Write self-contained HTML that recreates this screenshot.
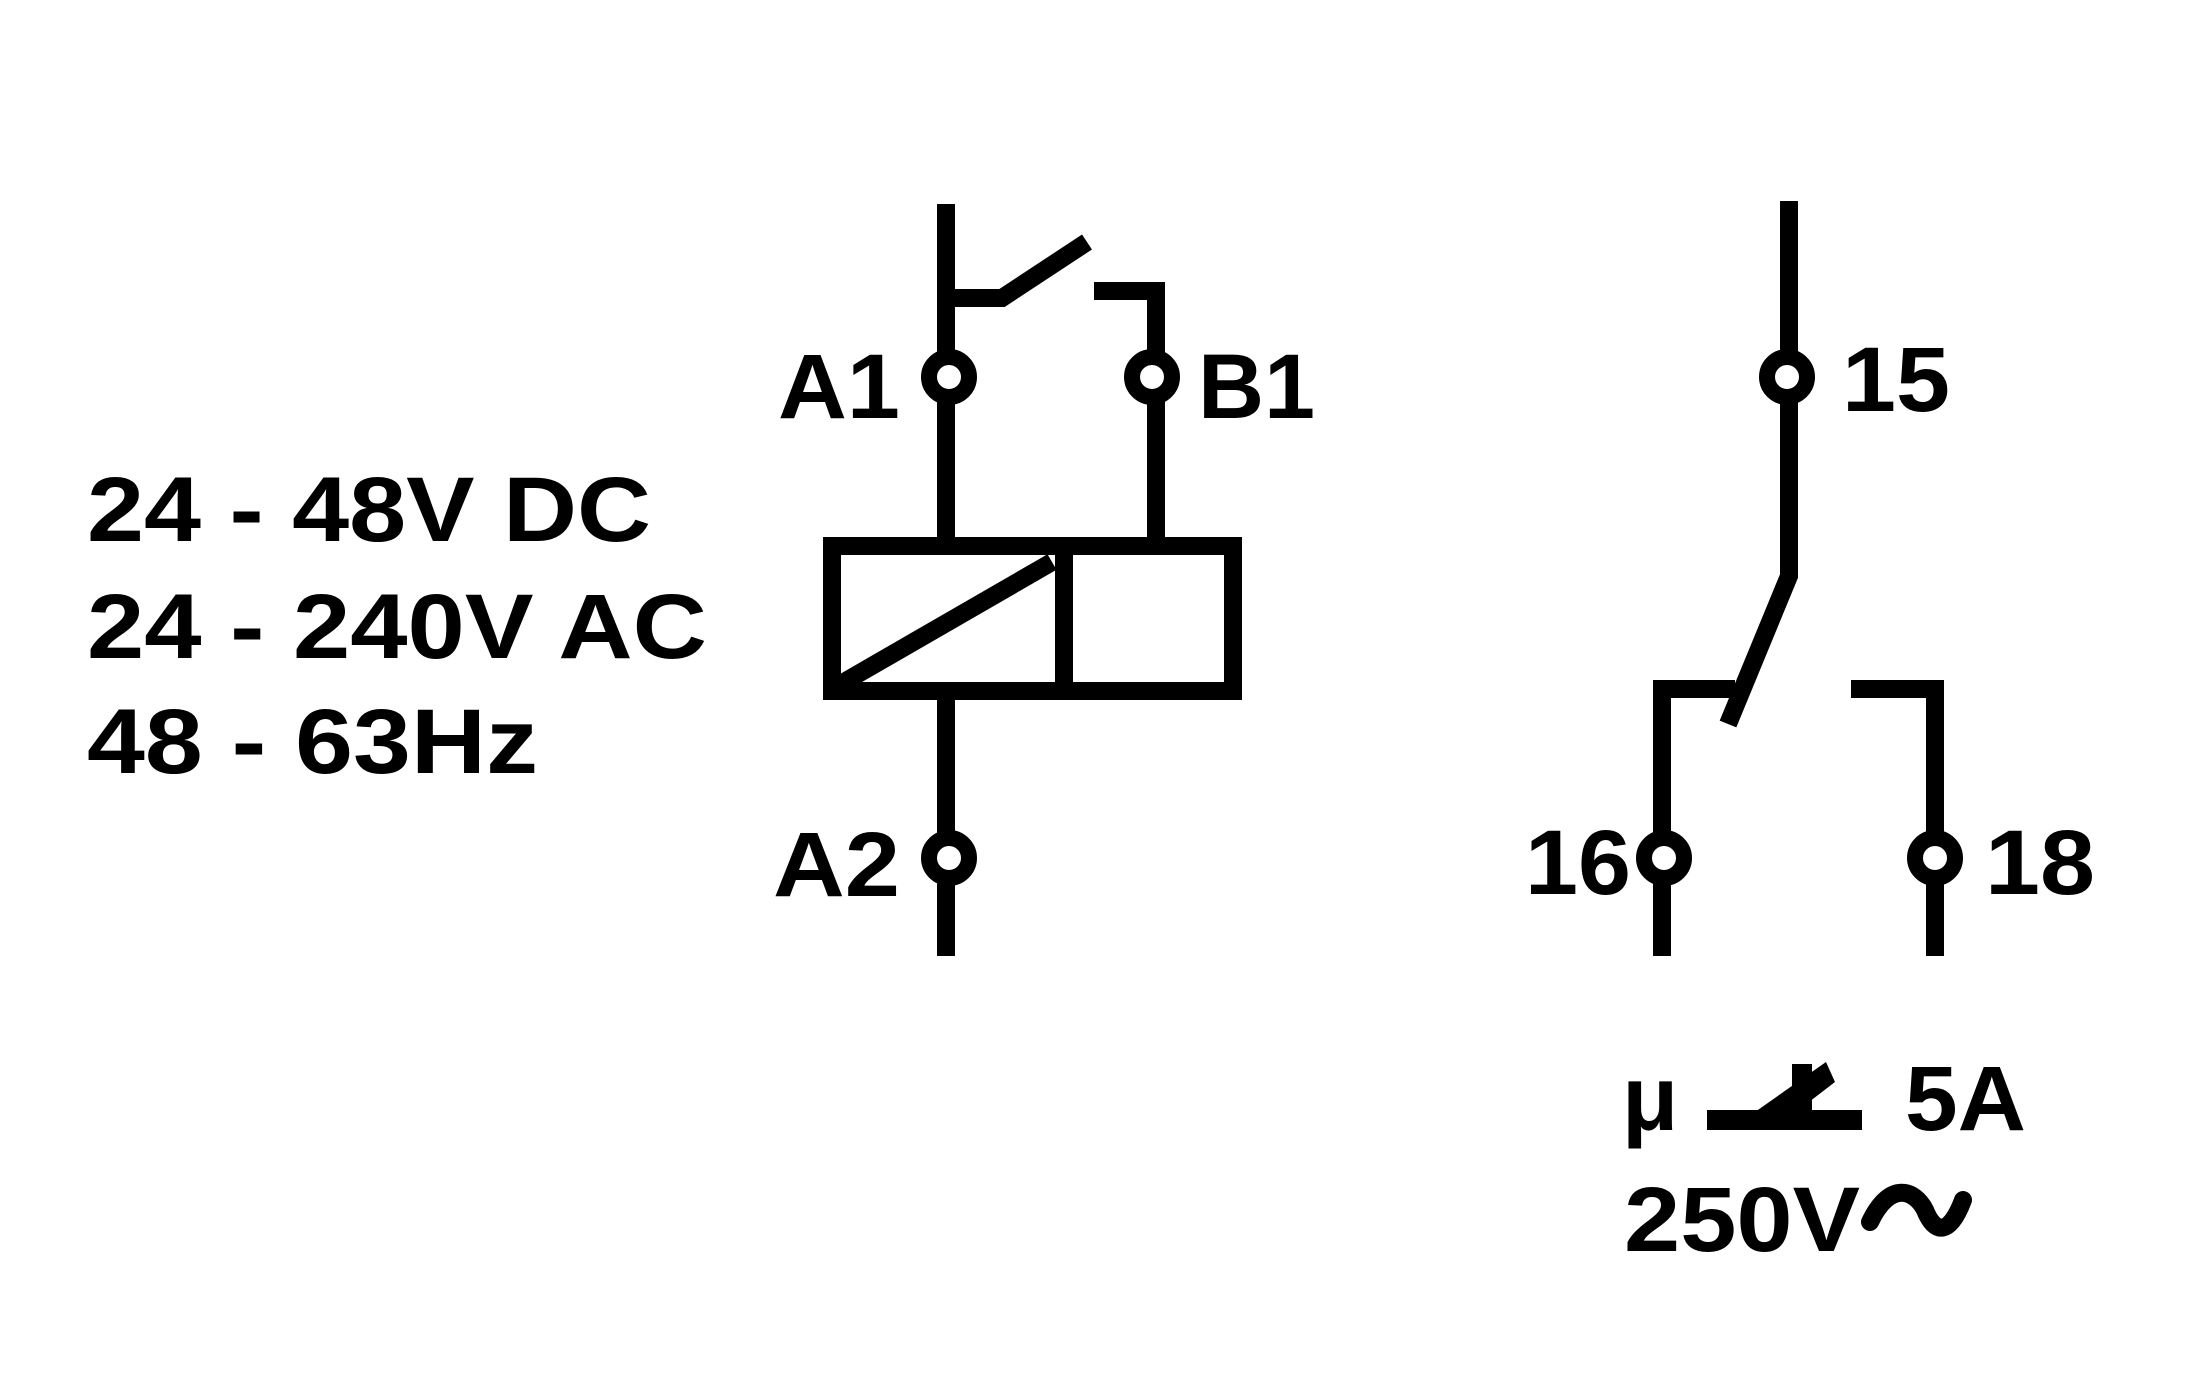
<!DOCTYPE html>
<html><head><meta charset="utf-8"><style>
html,body{margin:0;padding:0;background:#fff;}
svg{display:block;}
text{font-family:"Liberation Sans",sans-serif;font-weight:bold;fill:#000;}
</style></head><body>
<svg width="2193" height="1391" viewBox="0 0 2193 1391" xmlns="http://www.w3.org/2000/svg">
<g stroke="#000" stroke-width="18" fill="none" stroke-linecap="butt">
  <line x1="946" y1="204" x2="946" y2="541"/>
  <polyline points="946,298 1002,298 1087,242"/>
  <polyline points="1094,291 1156,291 1156,541"/>
  <rect x="832" y="546" width="401" height="145"/>
  <line x1="1064" y1="546" x2="1064" y2="691"/>
  <line x1="832" y1="689" x2="1052" y2="562"/>
  <line x1="946" y1="699" x2="946" y2="956"/>
  <polyline points="1789,201 1789,576 1728,724"/>
  <polyline points="1735,689 1662,689 1662,956"/>
  <polyline points="1851,689 1935,689 1935,956"/>
</g>
<g stroke="#000" stroke-width="16" fill="#fff">
  <circle cx="949" cy="377" r="20"/>
  <circle cx="1152" cy="377" r="20"/>
  <circle cx="949" cy="858" r="20"/>
  <circle cx="1787" cy="377" r="20"/>
  <circle cx="1664" cy="858" r="20"/>
  <circle cx="1935" cy="858" r="20"/>
</g>
<g font-size="92">
  <text x="778" y="418" textLength="122" lengthAdjust="spacingAndGlyphs">A1</text>
  <text x="1198" y="418" textLength="117" lengthAdjust="spacingAndGlyphs">B1</text>
  <text x="773" y="896" textLength="127" lengthAdjust="spacingAndGlyphs">A2</text>
  <text x="1842" y="411" textLength="108" lengthAdjust="spacingAndGlyphs">15</text>
  <text x="1525" y="894" textLength="106" lengthAdjust="spacingAndGlyphs">16</text>
  <text x="1985" y="894" textLength="110" lengthAdjust="spacingAndGlyphs">18</text>
  <text x="87" y="541" textLength="564" lengthAdjust="spacingAndGlyphs">24 - 48V DC</text>
  <text x="87" y="658" textLength="620" lengthAdjust="spacingAndGlyphs">24 - 240V AC</text>
  <text x="87" y="773" textLength="451" lengthAdjust="spacingAndGlyphs">48 - 63Hz</text>
  <text x="1622" y="1130">μ</text>
  <text x="1905" y="1130" textLength="121" lengthAdjust="spacingAndGlyphs">5A</text>
  <text x="1624" y="1251" textLength="236" lengthAdjust="spacingAndGlyphs">250V</text>
</g>
<g fill="#000">
  <rect x="1707" y="1110" width="155" height="20"/>
  <rect x="1792" y="1064" width="20" height="66"/>
  <polygon points="1755,1112 1775,1128 1835,1082 1826,1062"/>
</g>
<path d="M1870,1222 C1890,1180 1915,1190 1925,1210 C1935,1235 1950,1235 1963,1200" stroke="#000" stroke-width="18" fill="none" stroke-linecap="round"/>
</svg>
</body></html>
